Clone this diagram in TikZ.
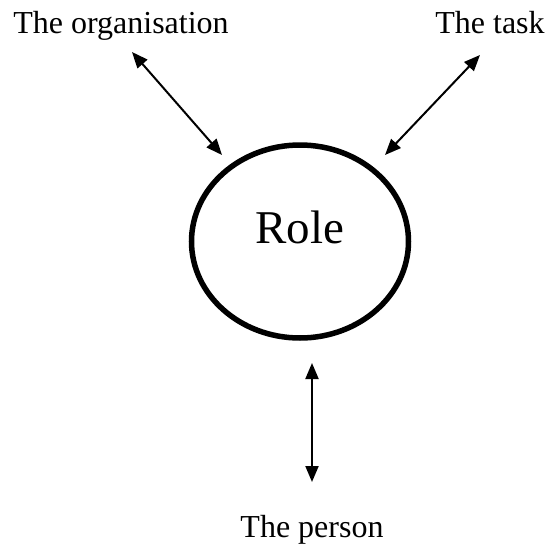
\documentclass[tikz,border=0pt]{standalone}
\usepackage{fontspec}
\setmainfont{Liberation Serif}
\usetikzlibrary{arrows.meta, shapes}
\tikzset{>={Triangle[length=16pt, width=13pt]}, link/.style={<->, line width=2pt}, lbl/.style={anchor=base, inner sep=0pt, font=\fontsize{32}{36}\selectfont}}

\begin{document}
\begin{tikzpicture}[x=1pt, y=-1pt]
        \useasboundingbox (0,0) rectangle (550,544);
        \node[ellipse, draw, line width=5.5pt, minimum width=217pt, minimum height=193pt, inner sep=0pt] (role) at (300,241.5) {};
        \node[anchor=base, inner sep=0pt, font=\fontsize{47}{52}\selectfont] (rolename) at (300,243) {Role};
        \node[lbl] (organisation) at (121,33) {The organisation};
        \node[lbl] (task) at (490,33) {The task};
        \node[lbl] (person) at (312,537) {The person};
        \coordinate (o1) at (132,52);
        \coordinate (o2) at (222,155);
        \coordinate (t1) at (480,55);
        \coordinate (t2) at (385,155);
        \coordinate (p1) at (312,363);
        \coordinate (p2) at (312,482);
        \draw[link] (o1) -- (o2);
        \draw[link] (t1) -- (t2);
        \draw[link] (p1) -- (p2);
    \end{tikzpicture}
\end{document}
